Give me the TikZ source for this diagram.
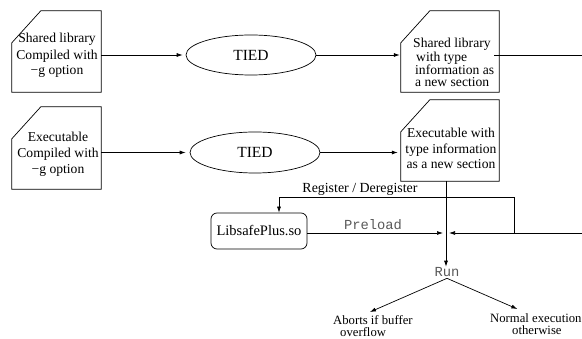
\documentclass[tikz,border=0pt]{standalone}
\usepackage{fontspec}
\setmainfont{Liberation Serif}
\setmonofont{Liberation Mono}
\usetikzlibrary{shapes.geometric,arrows.meta}

% outline of a document box with its top-left corner cut off
\newcommand\cutcorner[1]{%
  \draw[wire] (#1.south west) -- (#1.south east) -- (#1.north east)
    -- ([xshift=29pt]#1.north west) -- ([yshift=-32pt]#1.north west) -- cycle;}

\tikzset{
  wire/.style={line width=0.7pt, black},
  arr/.style={wire, -{Latex[length=6pt,width=4pt]}},
  docframe/.style={draw=none, inner sep=0pt, minimum width=#1},
  boxtext/.style={inner sep=0pt, anchor=north, align=center},
  tool/.style={draw, ellipse, line width=0.7pt, minimum width=130pt, minimum height=40pt,
    inner sep=0pt, font=\fontsize{15.5}{17}\selectfont},
  lib/.style={draw, rounded corners=6pt, line width=0.7pt, minimum width=96pt,
    minimum height=36pt, inner sep=0pt, font=\fontsize{14.5}{16}\selectfont},
  monolabel/.style={font=\ttfamily\fontsize{13.8}{15}\selectfont, text=black!65, inner sep=1pt},
  edgelabel/.style={font=\fontsize{13.9}{15}\selectfont, inner sep=0pt, anchor=base},
  outcome/.style={font=\fontsize{12.7}{11.5}\selectfont, align=left, inner sep=0pt, anchor=north west},
}

\begin{document}
\begin{tikzpicture}[x=1pt, y=-1pt]
\useasboundingbox (0,0) rectangle (582,339);

% input documents
\node[docframe=89pt, minimum height=81pt] (slin) at (56.5,51.5) {};
\cutcorner{slin}
\node[boxtext, font=\fontsize{13.6}{15}\selectfont] (slintext) at (57,32.8)
  {Shared library\\[2pt]Compiled with\\−g option};

\node[docframe=89pt, minimum height=82pt] (exin) at (56.5,148) {};
\cutcorner{exin}
\node[boxtext, font=\fontsize{13.6}{16}\selectfont] (exintext) at (58,132.3)
  {Executable\\Compiled with\\−g option};

% TIED passes
\node[tool] (tied1) at (251,55) {TIED};
\node[tool, minimum height=41pt] (tied2) at (255,152.5) {TIED};

% output documents
\node[docframe=98pt, minimum height=81pt] (slout) at (450,51.5) {};
\cutcorner{slout}
\node[boxtext, anchor=north west, align=left, font=\fontsize{13.6}{12.2}\selectfont] (slouttext) at (413,38)
  {Shared library\\\hspace*{3pt}with type\\\hspace*{2pt}information as\\\hspace*{2pt}a new section};

\node[docframe=98pt, minimum height=81pt] (exout) at (450,140.5) {};
\cutcorner{exout}
\node[boxtext, font=\fontsize{13.6}{15.5}\selectfont] (exouttext) at (451,128.3)
  {Executable with\\type information\\as a new section};

% runtime library and execution
\node[lib] (libsp) at (259,231) {LibsafePlus.so};
\node[monolabel, anchor=base] (run) at (447,277) {Run};

\node[outcome] (abort) at (333,315.5) {Aborts if buffer\\\hspace*{7pt}overflow};
\node[outcome] (normal) at (490,313.5) {Normal execution\\\hspace*{22pt}otherwise};

% edge labels
\node[edgelabel] (reglabel) at (360,192.5) {Register / Deregister};
\node[monolabel, anchor=base] (preloadlabel) at (373,230) {Preload};

% free ends and junctions
\coordinate (edge1) at (582,55);
\coordinate (edge2) at (582,233);
\coordinate (junc) at (446,233);
\coordinate (tap) at (514,233);
\coordinate (regtop) at (514,197);

% compilation flow
\draw[arr, shorten >=3pt] (tied1.west -| slin.east) -- (tied1.west);
\draw[arr, shorten >=1pt] (tied1.east) -- (slout.west |- tied1.east);
\draw[wire] ([xshift=-5pt]slout.east |- tied1.east) -- (edge1);

\draw[arr, shorten >=4pt] (tied2.west -| exin.east) -- (tied2.west);
\draw[arr, shorten >=3pt] (tied2.east) -- (exout.west |- tied2.east);

% execution flow
\draw[arr] (junc |- exout.south) -- (junc |- run.north);
\draw[arr] (libsp.east |- junc) -- ([xshift=-3pt]junc);
\draw[arr] (edge2) -- ([xshift=3pt]junc);
\draw[arr] (tap) -- (regtop) -| ([xshift=20pt]libsp.north);

\draw[arr] (run.south) -- ([shift={(-3pt,3.5pt)}]abort.north);
\draw[arr] (run.south) -- ([shift={(-18.5pt,4.5pt)}]normal.north);
\end{tikzpicture}
\end{document}
